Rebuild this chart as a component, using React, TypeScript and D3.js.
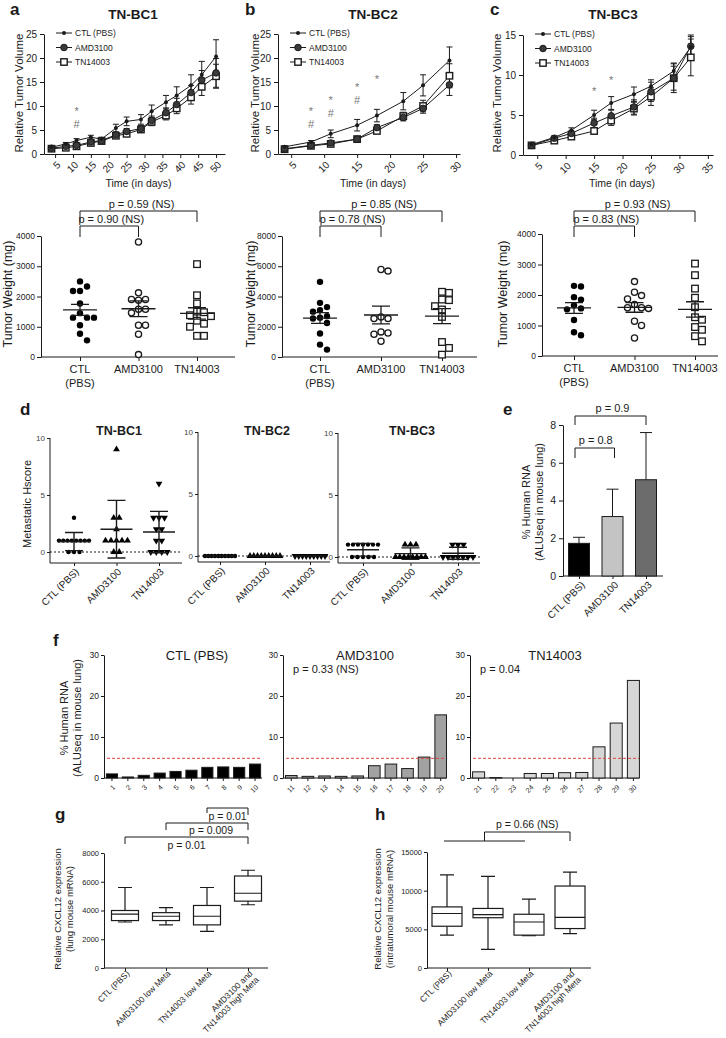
import React, { useEffect, useRef } from 'react';
import * as d3 from 'd3';

const FONT = '"Liberation Sans", Arial, Helvetica, sans-serif';
const INK = '#1b1b1b';
const num = d3.format('d');

const groups = ['CTL (PBS)', 'AMD3100', 'TN14003'];

// ---- a-c (top): relative tumour volume over time ----
const bc1Days = [4, 8, 11, 15, 18, 22, 25, 29, 32, 36, 39, 43, 46, 50];
const bc1Ctl = [1.4, 2.1, 2.8, 3.5, 3.1, 5.4, 6.8, 7.2, 8.9, 10.8, 12.2, 14.3, 16.5, 20.3];
const bc1CtlErr = [0.2, 0.3, 0.4, 0.4, 0.4, 0.8, 0.9, 1.0, 1.3, 1.4, 1.8, 2.2, 2.8, 3.5];
const bc1Amd = [1.2, 1.6, 1.8, 2.5, 2.8, 4.0, 4.7, 5.3, 7.0, 8.6, 10.3, 12.8, 15.4, 16.9];
const bc1AmdErr = [0.2, 0.2, 0.3, 0.3, 0.3, 0.5, 0.6, 0.6, 0.9, 1.0, 1.3, 1.5, 2.0, 3.0];
const bc1Tn = [1.1, 1.3, 1.6, 2.3, 2.7, 3.8, 4.2, 5.1, 6.7, 8.0, 9.5, 11.8, 14.0, 16.2];
const bc1TnErr = [0.2, 0.2, 0.3, 0.3, 0.3, 0.5, 0.5, 0.6, 0.8, 0.9, 1.1, 1.4, 1.8, 2.5];
const bc1DayTicks = [5, 10, 15, 20, 25, 30, 35, 40, 45, 50];
const bc1MarkDays = [11, 11];
const bc1MarkVals = [9.3, 6.3];
const bc1MarkSyms = ['*', '#'];

const bc2Days = [4, 8, 11, 15, 18, 22, 25, 29];
const bc2Ctl = [1.5, 2.5, 4.2, 6.0, 8.0, 11.0, 14.3, 19.5];
const bc2CtlErr = [0.2, 0.3, 0.8, 1.2, 1.3, 1.8, 2.2, 2.8];
const bc2Amd = [1.1, 1.8, 2.3, 3.1, 5.5, 7.6, 9.5, 14.4];
const bc2AmdErr = [0.2, 0.3, 0.3, 0.3, 0.6, 0.7, 1.0, 2.2];
const bc2Tn = [1.0, 1.7, 2.1, 3.1, 4.8, 7.9, 10.0, 16.3];
const bc2TnErr = [0.2, 0.2, 0.3, 0.3, 0.5, 0.8, 1.2, 2.5];
const bc2DayTicks = [5, 10, 15, 20, 25, 30];
const bc2MarkDays = [8, 8, 11, 11, 15, 15, 18];
const bc2MarkVals = [9.3, 6.3, 11.6, 8.6, 14.3, 11.3, 16.0];
const bc2MarkSyms = ['*', '#', '*', '#', '*', '#', '*'];

const bc3Days = [4, 8, 11, 15, 18, 22, 25, 29, 32];
const bc3Ctl = [1.3, 2.2, 3.1, 5.0, 6.5, 7.6, 8.6, 10.5, 13.5];
const bc3CtlErr = [0.1, 0.2, 0.3, 0.6, 0.8, 0.9, 0.8, 1.0, 1.5];
const bc3Amd = [1.2, 2.1, 2.7, 4.0, 4.9, 6.0, 7.9, 9.6, 13.6];
const bc3AmdErr = [0.1, 0.2, 0.3, 0.6, 0.7, 0.9, 1.2, 1.8, 1.2];
const bc3Tn = [1.2, 1.8, 2.3, 3.0, 4.3, 5.8, 7.3, 9.6, 12.2];
const bc3TnErr = [0.1, 0.2, 0.3, 0.4, 0.6, 0.8, 1.1, 1.5, 2.3];
const bc3DayTicks = [5, 10, 15, 20, 25, 30, 35];
const bc3MarkDays = [15, 18];
const bc3MarkVals = [8.3, 9.6];
const bc3MarkSyms = ['*', '*'];

// ---- a-c (bottom): tumour weight (mg) ----
const wtBC1Ctl = [2500, 2330, 2180, 2180, 1770, 1450, 1300, 1300, 1300, 1050, 770, 550];
const wtBC1Amd = [3800, 2120, 1900, 1900, 1880, 1580, 1580, 1460, 1050, 1050, 750, 80];
const wtBC1Tn = [3070, 2040, 1770, 1500, 1480, 1380, 1350, 1200, 1100, 1000, 700, 700];
const wtBC2Ctl = [4970, 3580, 3300, 3100, 3000, 2700, 2600, 2550, 2250, 1550, 820, 490];
const wtBC2Amd = [5790, 5680, 2650, 2540, 2540, 1660, 1590, 1500, 1040];
const wtBC2Tn = [4310, 4240, 3800, 3760, 3360, 3140, 2650, 990, 600, 155];
const wtBC3Ctl = [2300, 2280, 1930, 1850, 1660, 1560, 1530, 1180, 780, 680];
const wtBC3Amd = [2440, 2090, 1980, 1870, 1690, 1580, 1580, 1560, 1140, 1000, 590];
const wtBC3Tn = [3030, 2650, 2210, 1910, 1600, 1270, 1190, 950, 860, 650, 480];
const wtPOuter = ['p = 0.59 (NS)', 'p = 0.85 (NS)', 'p = 0.93 (NS)'];
const wtPInner = ['p = 0.90 (NS)', 'p = 0.78 (NS)', 'p = 0.83 (NS)'];

// ---- d: metastatic Hscore ----
const hBC1Ctl = [3, 1, 1, 1, 1, 1, 1, 1, 1, 0, 0, 0];
const hBC1Amd = [9, 3, 3, 2, 1, 1, 1, 1, 1, 0, 0];
const hBC1Tn = [6, 3, 3, 3, 2, 2, 1, 1, 0, 0, 0, 0];
const hBC2Ctl = [0, 0, 0, 0, 0, 0, 0, 0, 0, 0];
const hBC2Amd = [0, 0, 0, 0, 0, 0, 0, 0, 0];
const hBC2Tn = [0, 0, 0, 0, 0, 0, 0, 0, 0];
const hBC3Ctl = [1, 1, 1, 1, 1, 1, 1, 0, 0, 0, 0, 0];
const hBC3Amd = [1, 1, 1, 0, 0, 0, 0, 0, 0, 0, 0];
const hBC3Tn = [1, 1, 1, 0, 0, 0, 0, 0, 0, 0];

// ---- e: % human RNA, group means ----
const eMeans = [1.73, 3.15, 5.1];
const eErr = [0.32, 1.45, 2.5];
const eColors = ['#000000', '#c4c4c4', '#6c6c6c'];

// ---- f: % human RNA per mouse ----
const fCtlIds = ['1', '2', '3', '4', '5', '6', '7', '8', '9', '10'];
const fAmdIds = ['11', '12', '13', '14', '15', '16', '17', '18', '19', '20'];
const fTnIds = ['21', '22', '23', '24', '25', '26', '27', '28', '29', '30'];
const fCtl = [1.0, 0.25, 0.65, 1.2, 1.6, 1.9, 2.6, 2.7, 2.6, 3.4];
const fAmd = [0.6, 0.4, 0.5, 0.4, 0.5, 3.0, 3.4, 2.3, 5.1, 15.4];
const fTn = [1.5, 0.1, 0.0, 1.1, 1.1, 1.3, 1.35, 7.6, 13.4, 23.8];
const fThreshold = 4.8;

// ---- g, h: CXCL12 box plots [min, q1, median, q3, max] ----
const boxGroups = ['CTL (PBS)', 'AMD3100 low Meta', 'TN14003 low Meta', 'AMD3100 and\nTN14003 high Meta'];
const gMin = [3200, 3000, 2550, 4400];
const gQ1 = [3300, 3300, 3000, 4650];
const gMed = [3750, 3600, 3600, 5200];
const gQ3 = [4000, 3850, 4350, 6400];
const gMax = [5600, 4200, 5600, 6800];
const hMin = [4250, 2400, 4170, 4450];
const hQ1 = [5400, 6500, 4250, 5100];
const hMed = [7050, 6900, 5950, 6550];
const hQ3 = [7900, 7700, 6950, 10600];
const hMax = [12050, 11850, 8900, 12400];

type Sel = any;

function txt(g: Sel, x: number, y: number, s: string, size: number, o: any = {}) {
  const t = g.append('text').attr('x', x).attr('y', y).attr('font-size', size)
    .attr('font-family', FONT).attr('fill', o.fill || INK)
    .attr('text-anchor', o.anchor || 'start').text(s);
  if (o.bold) t.attr('font-weight', 'bold');
  if (o.rotate) t.attr('transform', `rotate(${o.rotate},${x},${y})`);
  return t;
}

function styleAxis(a: Sel, fs: number) {
  a.attr('font-family', FONT).attr('font-size', fs);
  a.selectAll('path,line').attr('stroke', INK).attr('stroke-width', 1);
  a.selectAll('text').attr('fill', INK);
}

function rotateTicks(a: Sel, dx: number, dy: number) {
  a.selectAll('.tick text').attr('x', 0).attr('y', 0).attr('dy', '0.35em')
    .attr('text-anchor', 'end').attr('transform', `translate(${dx},${dy}) rotate(-45)`);
}

function rotLabel(g: Sel, x: number, y: number, s: string, size: number) {
  const t = g.append('text').attr('transform', `translate(${x},${y}) rotate(-45)`)
    .attr('text-anchor', 'end').attr('font-family', FONT).attr('font-size', size).attr('fill', INK);
  s.split('\n').forEach((ln, i) => t.append('tspan').attr('x', 0).attr('dy', i === 0 ? '0.35em' : '1.05em').text(ln));
}

function bracket(g: Sel, x1: number, x2: number, yLine: number, y1: number, y2: number) {
  g.append('path').attr('d', `M${x1},${y1}V${yLine}H${x2}V${y2}`)
    .attr('fill', 'none').attr('stroke', INK).attr('stroke-width', 1);
}

function marker(g: Sel, kind: string, cx: number, cy: number) {
  if (kind === 'dot') g.append('circle').attr('cx', cx).attr('cy', cy).attr('r', 2).attr('fill', INK);
  else if (kind === 'disc') g.append('circle').attr('cx', cx).attr('cy', cy).attr('r', 3.3).attr('fill', '#3a3a3a').attr('stroke', INK).attr('stroke-width', 1);
  else if (kind === 'square') g.append('rect').attr('x', cx - 3.2).attr('y', cy - 3.2).attr('width', 6.4).attr('height', 6.4).attr('fill', '#fff').attr('stroke', INK).attr('stroke-width', 1.4);
  else if (kind === 'fill') g.append('circle').attr('cx', cx).attr('cy', cy).attr('r', 3.2).attr('fill', '#000');
  else if (kind === 'ring') g.append('circle').attr('cx', cx).attr('cy', cy).attr('r', 3.1).attr('fill', '#fff').attr('stroke', INK).attr('stroke-width', 1.3);
  else if (kind === 'box') g.append('rect').attr('x', cx - 3.3).attr('y', cy - 3.3).attr('width', 6.6).attr('height', 6.6).attr('fill', '#fff').attr('stroke', INK).attr('stroke-width', 1.3);
  else if (kind === 'sdot') g.append('circle').attr('cx', cx).attr('cy', cy).attr('r', 2.2).attr('fill', '#000');
  else if (kind === 'tri') g.append('path').attr('d', d3.symbol(d3.symbolTriangle, 20)()).attr('transform', `translate(${cx},${cy})`).attr('fill', '#000');
  else if (kind === 'tridown') g.append('path').attr('d', d3.symbol(d3.symbolTriangle, 20)()).attr('transform', `translate(${cx},${cy}) rotate(180)`).attr('fill', '#000');
}

// simple deterministic beeswarm offsets
function swarm(values: number[], y: (v: number) => number, step: number, minDist: number) {
  const order = values.map((_, i) => i).sort((a, b) => values[b] - values[a]);
  const placed: { x: number; y: number }[] = [];
  const out: number[] = new Array(values.length).fill(0);
  for (const i of order) {
    const py = y(values[i]);
    for (let k = 0; k < 40; k++) {
      const off = k === 0 ? 0 : (k % 2 ? 1 : -1) * Math.ceil(k / 2) * step;
      if (placed.every((p) => Math.hypot(p.x - off, p.y - py) >= minDist)) {
        placed.push({ x: off, y: py });
        out[i] = off;
        break;
      }
    }
  }
  return out;
}

// rows of equal values spread symmetrically
function rows(values: number[], maxStep: number, maxWidth: number) {
  const out: number[] = new Array(values.length).fill(0);
  const byVal = d3.group(values.map((v, i) => i), (i) => values[i]);
  byVal.forEach((idx) => {
    const n = idx.length;
    const s = n > 1 ? Math.min(maxStep, maxWidth / (n - 1)) : 0;
    idx.forEach((i, j) => { out[i] = (j - (n - 1) / 2) * s; });
  });
  return out;
}

function drawGrowth(svg: Sel, p: any) {
  const g = svg.append('g');
  const x = d3.scaleLinear().domain(p.xDomain).range([p.left, p.right]);
  const y = d3.scaleLinear().domain([0, p.yMax]).range([p.bottom, p.top]);
  const ya = g.append('g').attr('transform', `translate(${p.left},0)`)
    .call(d3.axisLeft(y).tickValues(p.yTicks).tickFormat(num).tickSize(4).tickSizeOuter(0).tickPadding(3));
  styleAxis(ya, 10);
  const xa = g.append('g').attr('transform', `translate(0,${p.bottom})`)
    .call(d3.axisBottom(x).tickValues(p.xTicks).tickFormat(num).tickSize(4).tickSizeOuter(0));
  styleAxis(xa, 10);
  rotateTicks(xa, 3, 9);

  txt(g, p.letterX, 15, p.letter, 17, { bold: true });
  txt(g, p.titleX, 19, p.title, 13.5, { bold: true, anchor: 'middle' });
  txt(g, p.ylabX, 93, 'Relative Tumor Volume', 11.5, { anchor: 'middle', rotate: -90 });
  txt(g, (p.left + p.right) / 2 + 4, 187, 'Time (in days)', 10.5, { anchor: 'middle' });

  const kinds = ['dot', 'disc', 'square'];
  const line = d3.line<number>().x((_, i) => x(p.days[i])).y((v) => y(v));
  [2, 1, 0].forEach((si) => {
    const [vals, errs] = p.series[si];
    g.append('path').attr('d', line(vals)).attr('fill', 'none').attr('stroke', INK).attr('stroke-width', 1);
    vals.forEach((v: number, i: number) => {
      const cx = x(p.days[i]);
      const y1 = y(v - errs[i]);
      const y2 = y(v + errs[i]);
      g.append('path').attr('d', `M${cx},${y1}V${y2}M${cx - 3},${y1}H${cx + 3}M${cx - 3},${y2}H${cx + 3}`)
        .attr('stroke', INK).attr('stroke-width', 1).attr('fill', 'none');
    });
  });
  [2, 1, 0].forEach((si) => {
    p.series[si][0].forEach((v: number, i: number) => marker(g, kinds[si], x(p.days[i]), y(v)));
  });

  // legend
  groups.forEach((name, i) => {
    const ly = p.top - 1 + i * 14.5;
    const lx = p.left + 12;
    g.append('line').attr('x1', lx).attr('x2', lx + 16).attr('y1', ly).attr('y2', ly).attr('stroke', INK);
    marker(g, kinds[i], lx + 8, ly);
    txt(g, lx + 19, ly + 3, name, 8.5);
  });

  p.markDays.forEach((d: number, i: number) => {
    const s = p.markSyms[i];
    txt(g, x(d), y(p.markVals[i]) + (s === '*' ? 6 : 4), s, 11, { anchor: 'middle', fill: '#777' });
  });
}

function drawScatter(svg: Sel, p: any) {
  const g = svg.append('g');
  const y = d3.scaleLinear().domain([0, p.yMax]).range([p.bottom, p.top]);
  const x = d3.scalePoint<string>().domain(groups).range(p.cats);
  const ya = g.append('g').attr('transform', `translate(${p.left},0)`)
    .call(d3.axisLeft(y).tickValues(p.yTicks).tickFormat(num).tickSize(4).tickSizeOuter(0).tickPadding(2));
  styleAxis(ya, 8.5);
  const xa = g.append('g').attr('transform', `translate(0,${p.bottom})`)
    .call(d3.axisBottom(x).tickSize(4).tickSizeOuter(0).tickFormat(() => ''));
  xa.select('.domain').attr('d', `M${p.left},0H${p.right}`);
  styleAxis(xa, 11);

  groups.forEach((name) => {
    const parts = name.split(' ');
    txt(g, x(name)!, p.bottom + 16, parts[0], 11, { anchor: 'middle' });
    if (parts[1]) txt(g, x(name)!, p.bottom + 30, parts[1], 11, { anchor: 'middle' });
  });
  txt(g, p.ylabX, 294, 'Tumor Weight (mg)', 12.5, { anchor: 'middle', rotate: -90 });

  const kinds = ['fill', 'ring', 'box'];
  p.values.forEach((vals: number[], gi: number) => {
    const cx = x(groups[gi])!;
    const offs = swarm(vals, y, 7, 6.8);
    const mean = d3.mean(vals)!;
    const sem = d3.deviation(vals)! / Math.sqrt(vals.length);
    vals.forEach((v, i) => marker(g, kinds[gi], cx + offs[i], y(v)));
    g.append('path')
      .attr('d', `M${cx - 17},${y(mean)}H${cx + 17}M${cx},${y(mean - sem)}V${y(mean + sem)}M${cx - 9},${y(mean - sem)}H${cx + 9}M${cx - 9},${y(mean + sem)}H${cx + 9}`)
      .attr('stroke', INK).attr('stroke-width', 1.3).attr('fill', 'none');
  });

  const c0 = x(groups[0])!, c1 = x(groups[1])!, c2 = x(groups[2])!;
  bracket(g, c0, c2, 211, 222, 222);
  txt(g, (c0 + c2) / 2 + 3, 208, p.pOuter, 11, { anchor: 'middle' });
  bracket(g, c0, c1, 226, 237, 237);
  txt(g, (c0 + c1) / 2 + 2, 223, p.pInner, 11, { anchor: 'middle' });
}

function drawHscore(svg: Sel, p: any) {
  const g = svg.append('g');
  const y = d3.scaleLinear().domain([0, 10]).range([p.y0, p.y10]);
  const x = d3.scalePoint<string>().domain(groups).range(p.cats);
  const ya = g.append('g').attr('transform', `translate(${p.left},0)`)
    .call(d3.axisLeft(y).tickValues([0, 5, 10]).tickFormat(num).tickSize(3).tickSizeOuter(0).tickPadding(2));
  ya.select('.domain').attr('d', `M0,${p.y10}V${p.axisY}`);
  styleAxis(ya, 8);
  ya.selectAll('text').attr('fill', '#444');
  const xa = g.append('g').attr('transform', `translate(0,${p.axisY})`)
    .call(d3.axisBottom(x).tickSize(3).tickSizeOuter(0).tickFormat(() => ''));
  xa.select('.domain').attr('d', `M${p.left},0H${p.right}`);
  styleAxis(xa, 10);
  groups.forEach((name) => rotLabel(g, x(name)! + 3, p.axisY + 7, name, 10));

  txt(g, (p.left + p.right) / 2 + 3, 435, p.title, 12.5, { bold: true, anchor: 'middle' });
  g.append('line').attr('x1', p.left).attr('x2', p.right).attr('y1', y(0)).attr('y2', y(0))
    .attr('stroke', INK).attr('stroke-dasharray', '2,2').attr('stroke-width', 1);

  const kinds = ['sdot', 'tri', 'tridown'];
  p.values.forEach((vals: number[], gi: number) => {
    const cx = x(groups[gi])!;
    const offs = rows(vals, 5.5, 30);
    vals.forEach((v, i) => marker(g, kinds[gi], cx + offs[i], y(v)));
    const mean = d3.mean(vals)!;
    const sd = d3.deviation(vals) || 0;
    g.append('path')
      .attr('d', `M${cx - 16},${y(mean)}H${cx + 16}M${cx},${y(mean - sd)}V${y(mean + sd)}M${cx - 9},${y(mean - sd)}H${cx + 9}M${cx - 9},${y(mean + sd)}H${cx + 9}`)
      .attr('stroke', INK).attr('stroke-width', 1.4).attr('fill', 'none');
  });
}

function drawBars(svg: Sel, p: any) {
  const g = svg.append('g');
  const y = d3.scaleLinear().domain([0, 30]).range([778, 655]);
  const x = d3.scaleBand<string>().domain(p.ids).range(p.range).paddingInner(0.3).paddingOuter(0.15);
  const ya = g.append('g').attr('transform', `translate(${p.left},0)`)
    .call(d3.axisLeft(y).tickValues([0, 10, 20, 30]).tickFormat(num).tickSize(3).tickSizeOuter(0).tickPadding(2));
  styleAxis(ya, 8.5);
  const xa = g.append('g').attr('transform', 'translate(0,778)')
    .call(d3.axisBottom(x).tickSize(3).tickSizeOuter(0));
  xa.select('.domain').attr('d', `M${p.left},0H${p.right}`);
  styleAxis(xa, 7);
  rotateTicks(xa, 2, 8);

  p.values.forEach((v: number, i: number) => {
    g.append('rect').attr('x', x(p.ids[i])!).attr('width', x.bandwidth())
      .attr('y', y(v)).attr('height', Math.max(0, 778 - y(v)))
      .attr('fill', p.color).attr('stroke', INK).attr('stroke-width', 1);
  });
  g.append('line').attr('x1', p.left + 3).attr('x2', p.right).attr('y1', y(fThreshold)).attr('y2', y(fThreshold))
    .attr('stroke', '#e0443c').attr('stroke-dasharray', '3,2').attr('stroke-width', 1);
  txt(g, p.titleX, 660, p.title, 13, { anchor: 'middle' });
  if (p.pText) txt(g, p.left + 10, 673, p.pText, 11);
}

function drawBoxes(svg: Sel, p: any) {
  const g = svg.append('g');
  const y = d3.scaleLinear().domain([0, p.yMax]).range([968, p.top]);
  const x = d3.scalePoint<string>().domain(boxGroups).range(p.cats);
  const ya = g.append('g').attr('transform', `translate(${p.left},0)`)
    .call(d3.axisLeft(y).tickValues(p.yTicks).tickFormat(num).tickSize(3).tickSizeOuter(0).tickPadding(2));
  styleAxis(ya, 7.5);
  const xa = g.append('g').attr('transform', 'translate(0,968)')
    .call(d3.axisBottom(x).tickSize(3).tickSizeOuter(0).tickFormat(() => ''));
  xa.select('.domain').attr('d', `M${p.left},0H${p.right}`);
  styleAxis(xa, 9);
  boxGroups.forEach((name) => rotLabel(g, x(name)! + 3, 972, name, 8.5));

  boxGroups.forEach((name, i) => {
    const cx = x(name)!;
    const w = p.boxW / 2;
    g.append('rect').attr('x', cx - w).attr('width', 2 * w).attr('y', y(p.q3[i])).attr('height', y(p.q1[i]) - y(p.q3[i]))
      .attr('fill', '#fff').attr('stroke', INK).attr('stroke-width', 1.2);
    g.append('path')
      .attr('d', `M${cx - w},${y(p.med[i])}H${cx + w}M${cx},${y(p.q3[i])}V${y(p.max[i])}M${cx},${y(p.q1[i])}V${y(p.min[i])}M${cx - 7},${y(p.max[i])}H${cx + 7}M${cx - 7},${y(p.min[i])}H${cx + 7}`)
      .attr('stroke', INK).attr('stroke-width', 1.2).attr('fill', 'none');
  });
  txt(g, p.letterX, 820, p.letter, 17, { bold: true });
  txt(g, p.ylabX, 909, 'Relative CXCL12 expression', 9.5, { anchor: 'middle', rotate: -90 });
  txt(g, p.ylabX + 12, 909, p.ylab2, 9.5, { anchor: 'middle', rotate: -90 });
  return x;
}

function drawAll(svg: Sel) {
  const growthCommon = { top: 34, bottom: 154, yMax: 25, yTicks: [0, 5, 10, 15, 20, 25] };
  drawGrowth(svg, {
    ...growthCommon, left: 44, right: 225, xDomain: [1.9, 52.5], xTicks: bc1DayTicks,
    days: bc1Days, series: [[bc1Ctl, bc1CtlErr], [bc1Amd, bc1AmdErr], [bc1Tn, bc1TnErr]],
    markDays: bc1MarkDays, markVals: bc1MarkVals, markSyms: bc1MarkSyms,
    letter: 'a', letterX: 10, title: 'TN-BC1', titleX: 133, ylabX: 23,
  });
  drawGrowth(svg, {
    ...growthCommon, left: 278, right: 460, xDomain: [3, 30.6], xTicks: bc2DayTicks,
    days: bc2Days, series: [[bc2Ctl, bc2CtlErr], [bc2Amd, bc2AmdErr], [bc2Tn, bc2TnErr]],
    markDays: bc2MarkDays, markVals: bc2MarkVals, markSyms: bc2MarkSyms,
    letter: 'b', letterX: 245, title: 'TN-BC2', titleX: 373, ylabX: 259,
  });
  drawGrowth(svg, {
    top: 35, bottom: 155, yMax: 15, yTicks: [0, 5, 10, 15], left: 523, right: 713, xDomain: [2.5, 35.9], xTicks: bc3DayTicks,
    days: bc3Days, series: [[bc3Ctl, bc3CtlErr], [bc3Amd, bc3AmdErr], [bc3Tn, bc3TnErr]],
    markDays: bc3MarkDays, markVals: bc3MarkVals, markSyms: bc3MarkSyms,
    letter: 'c', letterX: 490, title: 'TN-BC3', titleX: 613, ylabX: 501,
  });

  drawScatter(svg, { left: 41, right: 235, top: 236, bottom: 357, yMax: 4000, yTicks: [0, 1000, 2000, 3000, 4000], cats: [80, 197], ylabX: 12, values: [wtBC1Ctl, wtBC1Amd, wtBC1Tn], pOuter: wtPOuter[0], pInner: wtPInner[0] });
  drawScatter(svg, { left: 282, right: 477, top: 236, bottom: 357, yMax: 8000, yTicks: [0, 2000, 4000, 6000, 8000], cats: [320, 442], ylabX: 255, values: [wtBC2Ctl, wtBC2Amd, wtBC2Tn], pOuter: wtPOuter[1], pInner: wtPInner[1] });
  drawScatter(svg, { left: 542, right: 718, top: 234, bottom: 356, yMax: 4000, yTicks: [0, 1000, 2000, 3000, 4000], cats: [574, 695], ylabX: 507, values: [wtBC3Ctl, wtBC3Amd, wtBC3Tn], pOuter: wtPOuter[2], pInner: wtPInner[2] });

  // d
  txt(svg, 20, 415, 'd', 17, { bold: true });
  txt(svg, 31, 504, 'Metastatic Hscore', 11, { anchor: 'middle', rotate: -90 });
  drawHscore(svg, { left: 50, right: 182, y0: 552, y10: 438, axisY: 563, cats: [74, 159], title: 'TN-BC1', values: [hBC1Ctl, hBC1Amd, hBC1Tn] });
  drawHscore(svg, { left: 198, right: 330, y0: 556, y10: 432, axisY: 562, cats: [220, 310], title: 'TN-BC2', values: [hBC2Ctl, hBC2Amd, hBC2Tn] });
  drawHscore(svg, { left: 338, right: 480, y0: 557, y10: 433, axisY: 563, cats: [363, 458], title: 'TN-BC3', values: [hBC3Ctl, hBC3Amd, hBC3Tn] });

  // e
  {
    const g = svg.append('g');
    const y = d3.scaleLinear().domain([0, 8]).range([576, 425]);
    const x = d3.scalePoint<string>().domain(groups).range([579, 646]);
    const ya = g.append('g').attr('transform', 'translate(563,0)')
      .call(d3.axisLeft(y).tickValues([0, 2, 4, 6, 8]).tickFormat(num).tickSize(4).tickSizeOuter(0).tickPadding(3));
    styleAxis(ya, 10.5);
    const xa = g.append('g').attr('transform', 'translate(0,576)')
      .call(d3.axisBottom(x).tickSize(3).tickSizeOuter(0).tickFormat(() => ''));
    xa.select('.domain').attr('d', 'M563,0H663');
    styleAxis(xa, 10);
    groups.forEach((name, i) => {
      const cx = x(name)!;
      const top = y(eMeans[i] + eErr[i]);
      g.append('path').attr('d', `M${cx},${y(eMeans[i])}V${top}M${cx - 6},${top}H${cx + 6}`).attr('stroke', INK).attr('fill', 'none');
      g.append('rect').attr('x', cx - 10.5).attr('width', 21).attr('y', y(eMeans[i])).attr('height', 576 - y(eMeans[i]))
        .attr('fill', eColors[i]).attr('stroke', INK).attr('stroke-width', 1);
      rotLabel(g, cx + 4, 583, name, 10);
    });
    txt(g, 503, 415, 'e', 17, { bold: true });
    txt(g, 530, 502, '% Human RNA', 11, { anchor: 'middle', rotate: -90 });
    txt(g, 543, 502, '(ALUseq in mouse lung)', 11, { anchor: 'middle', rotate: -90 });
    const c0 = x(groups[0])!, c1 = x(groups[1])!, c2 = x(groups[2])!;
    bracket(g, c0 - 4, c2, 416, 425, 425);
    txt(g, (c0 + c2) / 2, 412, 'p = 0.9', 11, { anchor: 'middle' });
    bracket(g, c0 - 4, c1 + 2, 448, 458, 458);
    txt(g, (c0 + c1) / 2, 444, 'p = 0.8', 11, { anchor: 'middle' });
  }

  // f
  txt(svg, 53, 646, 'f', 17, { bold: true });
  txt(svg, 68, 718, '% Human RNA', 11, { anchor: 'middle', rotate: -90 });
  txt(svg, 81, 718, '(ALUseq in mouse lung)', 11, { anchor: 'middle', rotate: -90 });
  drawBars(svg, { left: 104, right: 262, range: [104, 263], ids: fCtlIds, values: fCtl, color: '#000', title: 'CTL (PBS)', titleX: 197 });
  drawBars(svg, { left: 283, right: 446, range: [283, 449], ids: fAmdIds, values: fAmd, color: '#a2a2a2', title: 'AMD3100', titleX: 365, pText: 'p = 0.33 (NS)' });
  drawBars(svg, { left: 470, right: 639, range: [470, 642], ids: fTnIds, values: fTn, color: '#d6d6d6', title: 'TN14003', titleX: 555, pText: 'p = 0.04' });

  // g
  const gx = drawBoxes(svg, { left: 104, right: 268, top: 853, yMax: 8000, yTicks: [0, 2000, 4000, 6000, 8000], cats: [125, 248], boxW: 27, min: gMin, q1: gQ1, med: gMed, q3: gQ3, max: gMax, letter: 'g', letterX: 55, ylabX: 61, ylab2: '(lung mouse mRNA)' });
  {
    const c = boxGroups.map((n) => gx(n)!);
    bracket(svg, c[2], c[3], 808, 813, 815);
    txt(svg, (c[2] + c[3]) / 2, 820, 'p = 0.01', 10.5, { anchor: 'middle' });
    bracket(svg, c[1], c[3], 823, 830, 830);
    txt(svg, (c[1] + c[3]) / 2 + 4, 834, 'p = 0.009', 10.5, { anchor: 'middle' });
    bracket(svg, c[0], c[3], 837, 844, 844);
    txt(svg, (c[0] + c[3]) / 2, 849, 'p = 0.01', 10.5, { anchor: 'middle' });
  }

  // h
  const hx = drawBoxes(svg, { left: 427, right: 591, top: 852, yMax: 15000, yTicks: [0, 5000, 10000, 15000], cats: [447, 570], boxW: 30, min: hMin, q1: hQ1, med: hMed, q3: hQ3, max: hMax, letter: 'h', letterX: 375, ylabX: 381, ylab2: '(intratumoral mouse mRNA)' });
  {
    const c = boxGroups.map((n) => hx(n)!);
    const a = c[0] - 3, b = c[2] - 4, mid = (a + b) / 2;
    svg.append('path').attr('d', `M${a},841H${b}M${mid},841V832H${c[3]}V841`).attr('fill', 'none').attr('stroke', INK);
    txt(svg, (mid + c[3]) / 2, 828, 'p = 0.66 (NS)', 10.5, { anchor: 'middle' });
  }
}

export default function App() {
  const ref = useRef<SVGSVGElement>(null);
  useEffect(() => {
    if (!ref.current) return;
    const svg = d3.select(ref.current);
    svg.selectAll('*').remove();
    drawAll(svg);
  }, []);
  return (
    <svg ref={ref} width={726} height={1038}
      style={{ position: 'absolute', left: 0, top: 0, background: '#fff' }} />
  );
}
